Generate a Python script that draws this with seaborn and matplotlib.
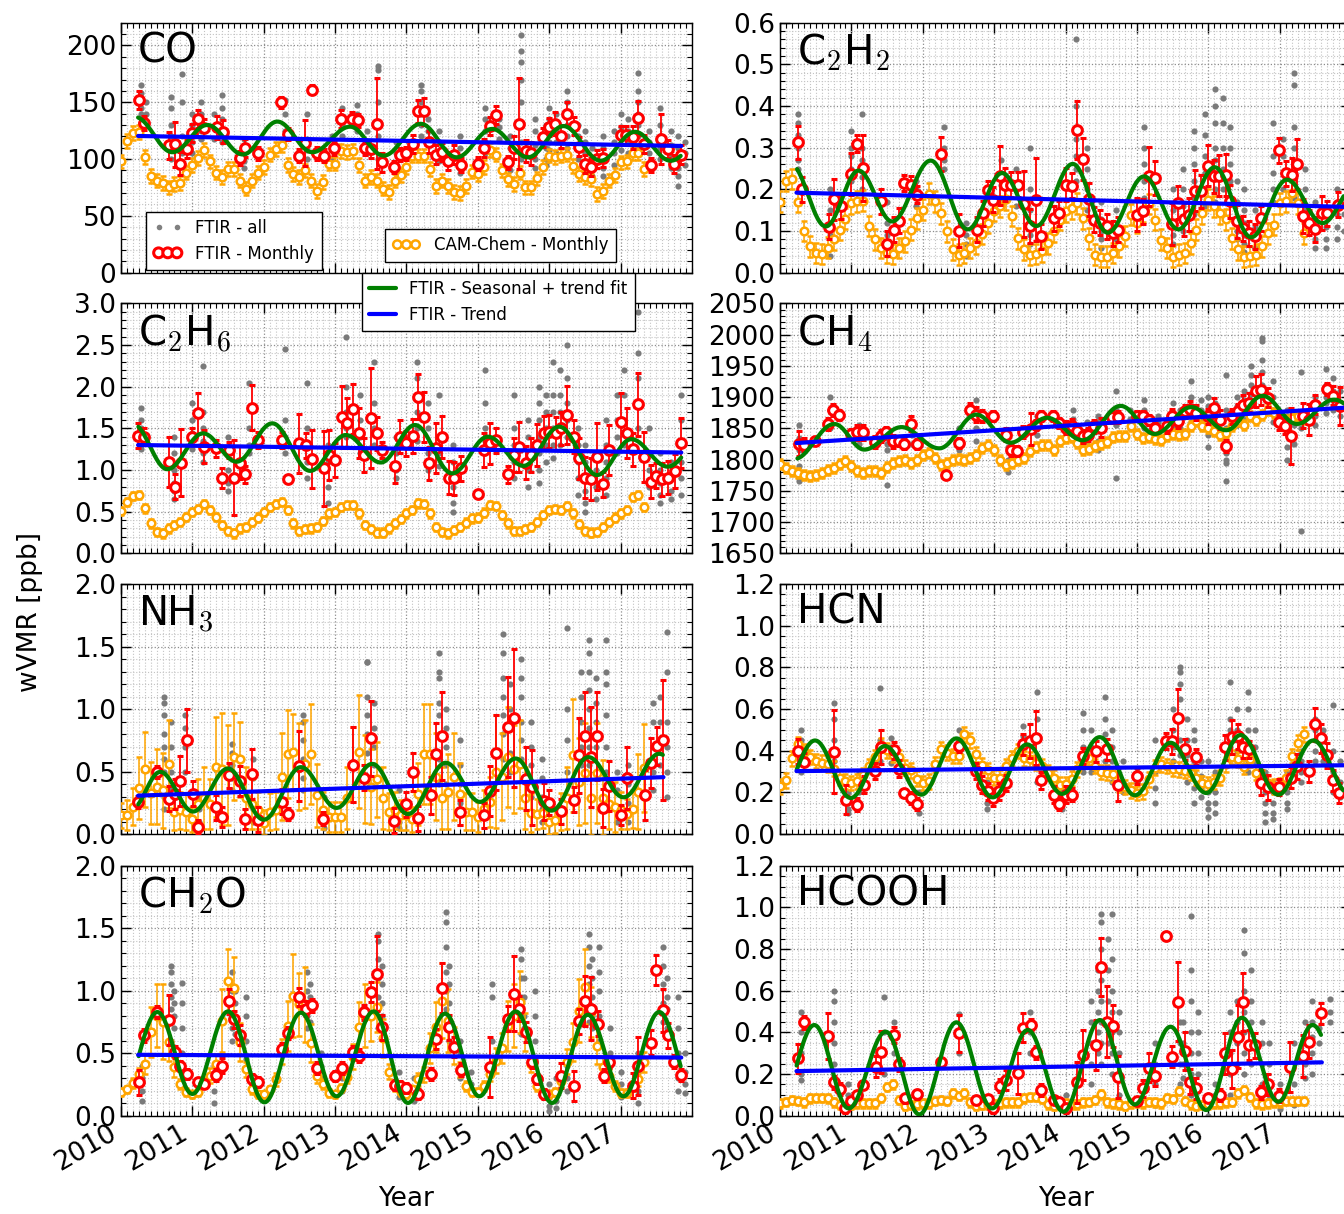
import numpy as np
import pandas as pd
import seaborn as sns
import matplotlib
matplotlib.use("Agg")
import matplotlib.pyplot as plt
from matplotlib.lines import Line2D
from matplotlib.ticker import AutoMinorLocator, MultipleLocator, FormatStrFormatter

# ---------------------------------------------------------------- data
# CAM-Chem monthly means, Jan 2010 onwards (one value per month)
cam_co = [98, 116, 123, 124, 102, 85, 81, 79, 75, 78,
          79, 88, 95, 101, 108, 98, 88, 84, 91, 91,
          81, 74, 81, 88, 93, 104, 109, 112, 95, 87,
          84, 90, 81, 72, 80, 96, 96, 107, 106, 107,
          95, 81, 84, 81, 74, 71, 81, 86, 93, 103,
          103, 103, 91, 76, 81, 76, 71, 70, 76, 89,
          87, 93, 108, 104, 90, 82, 78, 88, 75, 75,
          83, 93, 103, 102, 103, 104, 94, 87, 84, 82,
          69, 72, 81, 86, 97, 98, 105, 105, 91]
cam_c2h2 = [0.17, 0.22, 0.225, 0.17, 0.10, 0.063, 0.047, 0.045, 0.06, 0.08,
            0.103, 0.13, 0.167, 0.171, 0.173, 0.112, 0.08, 0.059, 0.047, 0.045,
            0.059, 0.075, 0.103, 0.131, 0.151, 0.19, 0.171, 0.143, 0.099, 0.056,
            0.043, 0.047, 0.059, 0.071, 0.093, 0.12, 0.149, 0.159, 0.176, 0.136,
            0.083, 0.056, 0.043, 0.045, 0.051, 0.071, 0.099, 0.127, 0.147, 0.155,
            0.167, 0.131, 0.083, 0.043, 0.038, 0.038, 0.047, 0.063, 0.088, 0.139,
            0.12, 0.147, 0.165, 0.127, 0.079, 0.059, 0.038, 0.043, 0.047, 0.071,
            0.103, 0.143, 0.175, 0.159, 0.143, 0.128, 0.083, 0.056, 0.038, 0.04,
            0.043, 0.063, 0.095, 0.115, 0.167, 0.171, 0.192, 0.167, 0.095]
cam_c2h6 = [0.51, 0.62, 0.69, 0.70, 0.54, 0.36, 0.26, 0.24, 0.30, 0.34,
            0.38, 0.44, 0.50, 0.53, 0.59, 0.52, 0.44, 0.34, 0.27, 0.24,
            0.30, 0.32, 0.38, 0.43, 0.50, 0.56, 0.59, 0.62, 0.52, 0.36,
            0.27, 0.29, 0.30, 0.32, 0.39, 0.48, 0.50, 0.56, 0.58, 0.58,
            0.48, 0.34, 0.29, 0.25, 0.25, 0.30, 0.36, 0.41, 0.48, 0.52,
            0.60, 0.59, 0.48, 0.32, 0.26, 0.24, 0.28, 0.32, 0.37, 0.42,
            0.43, 0.49, 0.58, 0.57, 0.46, 0.36, 0.27, 0.27, 0.29, 0.32,
            0.38, 0.46, 0.52, 0.53, 0.52, 0.57, 0.48, 0.35, 0.27, 0.25,
            0.26, 0.32, 0.38, 0.43, 0.48, 0.52, 0.68, 0.70, 0.56]
cam_ch4 = [1793, 1786, 1781, 1778, 1776, 1774, 1776, 1779, 1784, 1786,
           1793, 1797, 1789, 1781, 1778, 1781, 1781, 1779, 1788, 1795,
           1797, 1800, 1795, 1800, 1808, 1810, 1802, 1792, 1795, 1800,
           1801, 1800, 1802, 1808, 1818, 1824, 1816, 1800, 1792, 1794,
           1800, 1802, 1813, 1820, 1824, 1824, 1816, 1829, 1835, 1836,
           1827, 1816, 1817, 1821, 1825, 1828, 1836, 1838, 1837, 1853,
           1841, 1835, 1836, 1833, 1832, 1837, 1841, 1840, 1841, 1853,
           1861, 1853, 1851, 1845, 1840, 1843, 1853, 1861, 1856, 1869,
           1864, 1872, 1880, 1875, 1869, 1864, 1867, 1869, 1865]
cam_nh3 = [0.15, 0.15, 0.22, 0.37, 0.52, 0.33, 0.38, 0.35, 0.56, 0.18,
           0.19, 0.18, 0.12, 0.24, 0.29, 0.24, 0.54, 0.52, 0.47, 0.62,
           0.60, 0.29, 0.24, 0.19, 0.09, 0.18, 0.19, 0.46, 0.64, 0.66,
           0.54, 0.56, 0.64, 0.31, 0.19, 0.14, 0.14, 0.14, 0.29, 0.56,
           0.66, 0.44, 0.38, 0.44, 0.29, 0.18, 0.19, 0.15, 0.15, 0.12,
           0.32, 0.64, 0.64, 0.46, 0.29, 0.34, 0.46, 0.32, 0.18, 0.18,
           0.14, 0.20, 0.26, 0.50, 0.46, 0.62, 0.52, 0.56, 0.29, 0.17,
           0.16, 0.17, 0.10, 0.11, 0.18, 0.29, 0.63, 0.42, 0.49, 0.29,
           0.49, 0.29, 0.24, 0.22, 0.19, 0.16, 0.20, 0.34, 0.53]
cam_hcn = [0.229, 0.257, 0.363, 0.43, 0.398, 0.369, 0.35, 0.342, 0.334, 0.314,
           0.27, 0.253, 0.245, 0.253, 0.282, 0.326, 0.369, 0.427, 0.401, 0.379,
           0.369, 0.318, 0.305, 0.266, 0.245, 0.253, 0.334, 0.406, 0.39, 0.374,
           0.374, 0.478, 0.449, 0.382, 0.33, 0.305, 0.27, 0.27, 0.326, 0.363,
           0.398, 0.363, 0.358, 0.342, 0.326, 0.294, 0.27, 0.237, 0.241, 0.266,
           0.31, 0.35, 0.366, 0.326, 0.298, 0.294, 0.286, 0.237, 0.225, 0.209,
           0.197, 0.205, 0.262, 0.318, 0.334, 0.326, 0.314, 0.31, 0.302, 0.294,
           0.27, 0.245, 0.241, 0.25, 0.27, 0.334, 0.369, 0.358, 0.321, 0.358,
           0.294, 0.27, 0.245, 0.229, 0.234, 0.27, 0.374, 0.438, 0.478]
cam_ch2o = [0.19, 0.21, 0.26, 0.33, 0.41, 0.67, 0.80, 0.75, 0.59, 0.39,
            0.25, 0.19, 0.17, 0.19, 0.26, 0.32, 0.41, 0.76, 1.08, 1.02,
            0.59, 0.37, 0.21, 0.17, 0.17, 0.21, 0.29, 0.51, 0.72, 0.96,
            0.89, 0.89, 0.58, 0.32, 0.25, 0.18, 0.17, 0.22, 0.31, 0.47,
            0.71, 0.80, 0.80, 0.87, 0.62, 0.35, 0.24, 0.19, 0.17, 0.21,
            0.29, 0.33, 0.54, 0.71, 0.92, 0.76, 0.56, 0.37, 0.24, 0.19,
            0.19, 0.24, 0.33, 0.44, 0.54, 0.72, 0.80, 0.91, 0.67, 0.41,
            0.24, 0.18, 0.17, 0.19, 0.28, 0.43, 0.59, 0.84, 1.03, 0.83,
            0.56, 0.39, 0.32, 0.24, 0.18, 0.18, 0.24, 0.29, 0.43]
cam_hcooh = [0.059, 0.067, 0.075, 0.07, 0.064, 0.083, 0.086, 0.086, 0.083, 0.064,
             0.051, 0.043, 0.051, 0.059, 0.059, 0.059, 0.059, 0.086, 0.139, 0.15,
             0.075, 0.048, 0.051, 0.054, 0.059, 0.059, 0.07, 0.075, 0.07, 0.107,
             0.096, 0.107, 0.064, 0.048, 0.051, 0.051, 0.054, 0.059, 0.064, 0.064,
             0.064, 0.083, 0.091, 0.091, 0.08, 0.054, 0.048, 0.051, 0.059, 0.054,
             0.054, 0.064, 0.067, 0.075, 0.102, 0.064, 0.059, 0.054, 0.048, 0.059,
             0.064, 0.059, 0.067, 0.064, 0.059, 0.086, 0.08, 0.118, 0.07, 0.054,
             0.048, 0.051, 0.054, 0.059, 0.059, 0.064, 0.067, 0.107, 0.123, 0.091,
             0.059, 0.054, 0.059, 0.064, 0.064, 0.07, 0.07, 0.07, 0.07]

# CAM-Chem error bars (single value where the bars hardly change)
cam_err_nh3 = [0.1, 0.12, 0.15, 0.25, 0.3, 0.25, 0.3, 0.3, 0.35, 0.15,
               0.15, 0.15, 0.1, 0.2, 0.25, 0.2, 0.4, 0.45, 0.4, 0.35,
               0.3, 0.25, 0.2, 0.15, 0.1, 0.15, 0.15, 0.35, 0.35, 0.3,
               0.35, 0.35, 0.4, 0.25, 0.15, 0.12, 0.12, 0.12, 0.25, 0.3,
               0.45, 0.35, 0.3, 0.3, 0.25, 0.15, 0.15, 0.12, 0.12, 0.1,
               0.25, 0.4, 0.4, 0.35, 0.25, 0.3, 0.35, 0.25, 0.15, 0.15,
               0.12, 0.15, 0.2, 0.45, 0.35, 0.4, 0.35, 0.35, 0.25, 0.15,
               0.12, 0.12, 0.1, 0.1, 0.15, 0.25, 0.45, 0.35, 0.4, 0.3,
               0.4, 0.3, 0.2, 0.2, 0.15, 0.12, 0.15, 0.3, 0.35]
cam_err_ch2o = [0.03, 0.03, 0.04, 0.05, 0.08, 0.2, 0.25, 0.3, 0.15, 0.08,
                0.04, 0.03, 0.03, 0.03, 0.04, 0.06, 0.08, 0.25, 0.25, 0.25,
                0.15, 0.06, 0.04, 0.03, 0.03, 0.03, 0.05, 0.1, 0.2, 0.33,
                0.25, 0.3, 0.15, 0.06, 0.04, 0.03, 0.03, 0.03, 0.05, 0.1,
                0.2, 0.25, 0.2, 0.2, 0.15, 0.06, 0.04, 0.03, 0.03, 0.03,
                0.05, 0.06, 0.12, 0.2, 0.3, 0.25, 0.15, 0.06, 0.04, 0.03,
                0.03, 0.04, 0.05, 0.1, 0.12, 0.2, 0.25, 0.25, 0.15, 0.06,
                0.04, 0.03, 0.03, 0.03, 0.05, 0.1, 0.15, 0.25, 0.3, 0.2,
                0.15, 0.08, 0.05, 0.04, 0.03, 0.03, 0.04, 0.05, 0.08]
cam_err_co = 6
cam_err_c2h2 = 0.025
cam_err_c2h6 = 0.05
cam_err_ch4 = 8
cam_err_hcn = 0.035
cam_err_hcooh = 0.02

# FTIR monthly means: (decimal year, value, error)
ftir_co = [(2010.25, 152, 8), (2010.32, 132, 6), (2010.67, 112, 12), (2010.76, 113, 20),
           (2010.83, 96, 10), (2010.92, 109, 8), (2011.0, 123, 8), (2011.08, 135, 8),
           (2011.17, 127, 8), (2011.35, 128, 10), (2011.43, 124, 10), (2011.67, 101, 6),
           (2011.74, 110, 8), (2011.92, 105, 6), (2012.24, 150, 5), (2012.34, 122, 5),
           (2012.5, 103, 6), (2012.58, 114, 20), (2012.67, 161, 4), (2012.74, 105, 6),
           (2012.85, 103, 6), (2012.99, 110, 6), (2013.08, 135, 8), (2013.24, 135, 6),
           (2013.32, 134, 6), (2013.42, 110, 6), (2013.5, 109, 8), (2013.59, 131, 40),
           (2013.66, 97, 8), (2013.83, 93, 5), (2013.91, 104, 6), (2014.0, 105, 6),
           (2014.09, 113, 8), (2014.16, 142, 10), (2014.25, 142, 12), (2014.32, 115, 10),
           (2014.41, 104, 8), (2014.5, 106, 8), (2014.58, 98, 8), (2014.67, 104, 8),
           (2014.76, 95, 6), (2015.0, 96, 6), (2015.08, 110, 8), (2015.17, 129, 8),
           (2015.25, 139, 8), (2015.42, 97, 6), (2015.5, 110, 10), (2015.58, 131, 40),
           (2015.67, 107, 10), (2015.74, 105, 10), (2015.91, 119, 8), (2016.0, 128, 8),
           (2016.08, 131, 10), (2016.16, 120, 10), (2016.25, 140, 10), (2016.34, 129, 8),
           (2016.42, 111, 8), (2016.5, 96, 8), (2016.59, 93, 8), (2016.67, 100, 8),
           (2016.75, 101, 8), (2017.0, 121, 8), (2017.08, 121, 8), (2017.17, 119, 10),
           (2017.25, 136, 15), (2017.33, 113, 8), (2017.42, 95, 6), (2017.57, 118, 22),
           (2017.66, 109, 8), (2017.75, 96, 8), (2017.84, 104, 8)]
ftir_c2h2 = [(2010.25, 0.313, 0.04), (2010.31, 0.2, 0.03), (2010.68, 0.11, 0.03), (2010.76, 0.176, 0.05),
             (2010.86, 0.159, 0.03), (2011.0, 0.237, 0.05), (2011.08, 0.31, 0.02), (2011.16, 0.251, 0.08),
             (2011.42, 0.171, 0.03), (2011.5, 0.069, 0.03), (2011.59, 0.103, 0.03), (2011.66, 0.125, 0.03),
             (2011.74, 0.215, 0.02), (2011.83, 0.211, 0.02), (2011.92, 0.187, 0.02), (2012.25, 0.285, 0.04),
             (2012.5, 0.101, 0.04), (2012.76, 0.103, 0.03), (2012.84, 0.143, 0.03), (2012.91, 0.199, 0.02),
             (2012.99, 0.175, 0.03), (2013.08, 0.233, 0.07), (2013.15, 0.211, 0.04), (2013.23, 0.211, 0.03),
             (2013.33, 0.211, 0.03), (2013.42, 0.165, 0.08), (2013.5, 0.112, 0.04), (2013.58, 0.175, 0.1),
             (2013.66, 0.087, 0.03), (2013.84, 0.131, 0.03), (2013.91, 0.143, 0.03), (2014.0, 0.211, 0.04),
             (2014.09, 0.209, 0.03), (2014.16, 0.343, 0.07), (2014.24, 0.273, 0.05), (2014.33, 0.176, 0.04),
             (2014.4, 0.127, 0.03), (2014.48, 0.12, 0.03), (2014.58, 0.111, 0.03), (2014.67, 0.095, 0.03),
             (2014.74, 0.103, 0.03), (2015.0, 0.139, 0.04), (2015.09, 0.147, 0.03), (2015.17, 0.231, 0.07),
             (2015.25, 0.227, 0.04), (2015.49, 0.117, 0.05), (2015.58, 0.168, 0.04), (2015.66, 0.128, 0.04),
             (2015.73, 0.139, 0.04), (2015.81, 0.197, 0.05), (2015.9, 0.195, 0.04), (2016.0, 0.257, 0.05),
             (2016.08, 0.231, 0.04), (2016.15, 0.233, 0.05), (2016.25, 0.235, 0.05), (2016.31, 0.171, 0.04),
             (2016.4, 0.123, 0.04), (2016.48, 0.107, 0.03), (2016.57, 0.095, 0.03), (2016.65, 0.087, 0.03),
             (2016.74, 0.131, 0.03), (2016.99, 0.294, 0.03), (2017.09, 0.239, 0.03), (2017.17, 0.235, 0.04),
             (2017.24, 0.261, 0.06), (2017.33, 0.136, 0.04), (2017.41, 0.12, 0.03), (2017.49, 0.104, 0.03),
             (2017.59, 0.143, 0.04), (2017.66, 0.143, 0.03), (2017.82, 0.163, 0.03)]
ftir_c2h6 = [(2010.24, 1.41, 0.15), (2010.32, 1.40, 0.1), (2010.67, 1.10, 0.3), (2010.76, 0.80, 0.15),
             (2010.84, 1.09, 0.4), (2011.0, 1.40, 0.1), (2011.08, 1.68, 0.25), (2011.17, 1.28, 0.2),
             (2011.33, 1.26, 0.1), (2011.42, 0.91, 0.12), (2011.51, 1.24, 0.1), (2011.58, 0.91, 0.45),
             (2011.67, 1.09, 0.2), (2011.74, 0.95, 0.1), (2011.84, 1.75, 0.27), (2011.92, 1.36, 0.1),
             (2012.26, 1.36, 0.1), (2012.34, 0.89, 0.05), (2012.5, 1.32, 0.35), (2012.59, 1.30, 0.15),
             (2012.67, 1.13, 0.35), (2012.84, 1.02, 0.45), (2012.92, 1.18, 0.3), (2013.0, 1.12, 0.2),
             (2013.09, 1.64, 0.37), (2013.17, 1.57, 0.3), (2013.25, 1.73, 0.3), (2013.33, 1.44, 0.3),
             (2013.41, 1.18, 0.2), (2013.5, 1.62, 0.6), (2013.59, 1.44, 0.2), (2013.66, 1.24, 0.1),
             (2013.84, 1.05, 0.2), (2013.91, 1.40, 0.2), (2014.0, 1.32, 0.15), (2014.09, 1.41, 0.2),
             (2014.16, 1.88, 0.27), (2014.25, 1.64, 0.3), (2014.32, 1.08, 0.2), (2014.41, 1.26, 0.3),
             (2014.5, 1.40, 0.25), (2014.59, 0.91, 0.2), (2014.67, 0.90, 0.2), (2014.76, 1.02, 0.15),
             (2015.0, 0.71, 0.03), (2015.08, 1.24, 0.2), (2015.17, 1.32, 0.25), (2015.26, 1.36, 0.15),
             (2015.42, 0.95, 0.1), (2015.5, 1.18, 0.2), (2015.58, 1.28, 0.3), (2015.67, 1.09, 0.2),
             (2015.75, 1.18, 0.2), (2015.83, 1.30, 0.25), (2015.92, 1.45, 0.2), (2016.0, 1.46, 0.2),
             (2016.09, 1.44, 0.2), (2016.17, 1.50, 0.2), (2016.25, 1.66, 0.35), (2016.34, 1.40, 0.2),
             (2016.42, 1.14, 0.25), (2016.5, 0.91, 0.25), (2016.59, 0.89, 0.25), (2016.67, 1.16, 0.4),
             (2016.75, 0.83, 0.15), (2016.83, 1.24, 0.3), (2017.0, 1.58, 0.35), (2017.09, 1.44, 0.3),
             (2017.17, 1.25, 0.2), (2017.25, 1.79, 0.38), (2017.33, 1.16, 0.3), (2017.42, 0.86, 0.2),
             (2017.5, 0.93, 0.15), (2017.58, 0.89, 0.2), (2017.66, 0.91, 0.2), (2017.76, 0.99, 0.2),
             (2017.84, 1.32, 0.3)]
ftir_ch4 = [(2010.26, 1825, 20), (2010.33, 1824, 10), (2010.49, 1829, 5), (2010.67, 1857, 10),
            (2010.74, 1879, 10), (2010.83, 1872, 8), (2010.99, 1841, 8), (2011.08, 1844, 12),
            (2011.16, 1844, 12), (2011.33, 1828, 10), (2011.41, 1838, 10), (2011.49, 1844, 8),
            (2011.58, 1829, 10), (2011.66, 1829, 8), (2011.74, 1825, 8), (2011.83, 1857, 12),
            (2011.92, 1825, 8), (2012.33, 1776, 5), (2012.5, 1827, 8), (2012.66, 1880, 10),
            (2012.75, 1872, 12), (2012.83, 1870, 10), (2012.99, 1869, 8), (2013.17, 1840, 10),
            (2013.24, 1815, 10), (2013.32, 1813, 8), (2013.4, 1844, 10), (2013.51, 1849, 25),
            (2013.58, 1856, 8), (2013.66, 1869, 8), (2013.82, 1870, 8), (2013.91, 1859, 8),
            (2014.0, 1851, 10), (2014.09, 1853, 12), (2014.16, 1845, 10), (2014.24, 1837, 10),
            (2014.32, 1840, 10), (2014.4, 1853, 10), (2014.49, 1851, 15), (2014.65, 1868, 10),
            (2014.74, 1868, 10), (2015.0, 1869, 8), (2015.09, 1870, 8), (2015.17, 1863, 8),
            (2015.25, 1851, 8), (2015.42, 1853, 10), (2015.49, 1869, 12), (2015.58, 1861, 10),
            (2015.67, 1877, 10), (2015.74, 1881, 12), (2015.83, 1875, 12), (2016.0, 1869, 12),
            (2016.08, 1883, 15), (2016.16, 1864, 15), (2016.25, 1822, 10), (2016.33, 1869, 12),
            (2016.41, 1877, 12), (2016.49, 1888, 15), (2016.57, 1891, 15), (2016.67, 1909, 25),
            (2016.74, 1912, 25), (2016.83, 1899, 15), (2016.99, 1860, 12), (2017.08, 1853, 12),
            (2017.16, 1838, 45), (2017.33, 1870, 20), (2017.41, 1864, 25), (2017.5, 1888, 15),
            (2017.66, 1913, 10), (2017.75, 1902, 15), (2017.84, 1886, 30)]
ftir_nh3 = [(2010.24, 0.257, 0.05), (2010.5, 0.497, 0.05), (2010.67, 0.283, 0.1), (2010.76, 0.321, 0.12),
            (2010.83, 0.428, 0.2), (2010.92, 0.749, 0.25), (2011.01, 0.321, 0.1), (2011.08, 0.06, 0.05),
            (2011.33, 0.214, 0.1), (2011.42, 0.134, 0.08), (2011.51, 0.47, 0.1), (2011.67, 0.428, 0.12),
            (2011.74, 0.123, 0.08), (2011.84, 0.481, 0.2), (2011.92, 0.115, 0.1), (2012.26, 0.257, 0.1),
            (2012.34, 0.16, 0.05), (2012.5, 0.543, 0.28), (2012.83, 0.123, 0.05), (2013.25, 0.556, 0.3),
            (2013.41, 0.449, 0.1), (2013.5, 0.765, 0.3), (2013.83, 0.107, 0.1), (2014.0, 0.24, 0.1),
            (2014.09, 0.497, 0.15), (2014.16, 0.128, 0.1), (2014.34, 0.31, 0.15), (2014.42, 0.642, 0.25),
            (2014.5, 0.783, 0.35), (2014.75, 0.176, 0.1), (2015.08, 0.15, 0.1), (2015.17, 0.348, 0.2),
            (2015.25, 0.65, 0.3), (2015.42, 0.856, 0.4), (2015.5, 0.93, 0.55), (2015.67, 0.444, 0.25),
            (2015.76, 0.374, 0.3), (2015.92, 0.262, 0.15), (2016.0, 0.249, 0.1), (2016.17, 0.182, 0.1),
            (2016.34, 0.275, 0.1), (2016.42, 0.631, 0.3), (2016.5, 0.783, 0.35), (2016.59, 0.615, 0.4),
            (2016.67, 0.783, 0.35), (2016.75, 0.209, 0.15), (2016.84, 0.382, 0.2), (2017.01, 0.155, 0.08),
            (2017.09, 0.449, 0.25), (2017.34, 0.31, 0.2), (2017.42, 0.57, 0.2), (2017.51, 0.703, 0.15),
            (2017.6, 0.749, 0.48)]
ftir_hcn = [(2010.25, 0.398, 0.06), (2010.33, 0.347, 0.04), (2010.76, 0.395, 0.2), (2010.93, 0.165, 0.07),
            (2011.08, 0.141, 0.03), (2011.18, 0.237, 0.04), (2011.33, 0.302, 0.04), (2011.42, 0.417, 0.08),
            (2011.59, 0.401, 0.04), (2011.66, 0.314, 0.04), (2011.74, 0.197, 0.02), (2011.83, 0.173, 0.03),
            (2011.92, 0.144, 0.03), (2012.5, 0.422, 0.03), (2012.75, 0.302, 0.04), (2012.83, 0.237, 0.04),
            (2012.91, 0.205, 0.04), (2012.99, 0.173, 0.04), (2013.07, 0.205, 0.04), (2013.16, 0.245, 0.04),
            (2013.4, 0.43, 0.05), (2013.5, 0.446, 0.08), (2013.58, 0.459, 0.13), (2013.66, 0.257, 0.04),
            (2013.84, 0.189, 0.04), (2013.91, 0.144, 0.03), (2014.0, 0.189, 0.04), (2014.09, 0.189, 0.03),
            (2014.24, 0.374, 0.04), (2014.42, 0.398, 0.05), (2014.58, 0.406, 0.05), (2014.74, 0.237, 0.08),
            (2015.0, 0.278, 0.04), (2015.41, 0.446, 0.04), (2015.49, 0.446, 0.06), (2015.58, 0.555, 0.14),
            (2015.67, 0.406, 0.05), (2015.83, 0.369, 0.04), (2016.24, 0.417, 0.06), (2016.33, 0.465, 0.08),
            (2016.41, 0.47, 0.06), (2016.49, 0.417, 0.05), (2016.57, 0.406, 0.04), (2016.74, 0.245, 0.06),
            (2016.83, 0.225, 0.06), (2016.99, 0.225, 0.04), (2017.16, 0.27, 0.05), (2017.24, 0.326, 0.06),
            (2017.41, 0.302, 0.05), (2017.49, 0.526, 0.08), (2017.58, 0.459, 0.07), (2017.66, 0.379, 0.06),
            (2017.75, 0.257, 0.05), (2017.83, 0.197, 0.05)]
ftir_ch2o = [(2010.25, 0.267, 0.1), (2010.32, 0.642, 0.05), (2010.5, 0.829, 0.05), (2010.67, 0.762, 0.2),
             (2010.76, 0.508, 0.05), (2010.83, 0.401, 0.04), (2010.92, 0.334, 0.04), (2011.08, 0.267, 0.03),
             (2011.17, 0.254, 0.03), (2011.33, 0.326, 0.05), (2011.42, 0.401, 0.06), (2011.51, 0.914, 0.1),
             (2011.58, 0.77, 0.07), (2011.67, 0.642, 0.08), (2011.84, 0.294, 0.04), (2011.92, 0.267, 0.04),
             (2012.26, 0.535, 0.05), (2012.34, 0.663, 0.05), (2012.5, 0.949, 0.07), (2012.59, 0.856, 0.06),
             (2012.67, 0.882, 0.05), (2012.75, 0.38, 0.05), (2013.0, 0.316, 0.04), (2013.09, 0.38, 0.05),
             (2013.25, 0.508, 0.05), (2013.33, 0.481, 0.05), (2013.41, 0.829, 0.06), (2013.5, 0.989, 0.08),
             (2013.59, 1.136, 0.3), (2013.66, 0.709, 0.1), (2013.84, 0.246, 0.04), (2013.91, 0.235, 0.04),
             (2014.0, 0.219, 0.04), (2014.16, 0.174, 0.04), (2014.34, 0.334, 0.05), (2014.42, 0.61, 0.08),
             (2014.5, 1.021, 0.2), (2014.59, 0.709, 0.1), (2014.67, 0.548, 0.08), (2014.76, 0.369, 0.05),
             (2015.17, 0.388, 0.24), (2015.42, 0.775, 0.1), (2015.5, 0.976, 0.3), (2015.58, 0.856, 0.1),
             (2015.67, 0.668, 0.08), (2015.76, 0.428, 0.05), (2015.83, 0.294, 0.04), (2015.92, 0.174, 0.04),
             (2016.17, 0.321, 0.1), (2016.34, 0.241, 0.12), (2016.42, 0.754, 0.1), (2016.5, 0.914, 0.2),
             (2016.59, 0.856, 0.25), (2016.68, 0.735, 0.1), (2016.76, 0.321, 0.05), (2016.84, 0.428, 0.05),
             (2017.17, 0.241, 0.1), (2017.25, 0.396, 0.23), (2017.42, 0.583, 0.1), (2017.5, 1.163, 0.12),
             (2017.59, 0.842, 0.17), (2017.66, 0.642, 0.1), (2017.75, 0.433, 0.05), (2017.84, 0.326, 0.05)]
ftir_hcooh = [(2010.25, 0.275, 0.07), (2010.33, 0.448, 0.03), (2010.67, 0.384, 0.11), (2010.76, 0.16, 0.03),
              (2010.84, 0.128, 0.03), (2010.91, 0.035, 0.02), (2011.0, 0.07, 0.02), (2011.08, 0.099, 0.02),
              (2011.16, 0.147, 0.02), (2011.34, 0.235, 0.05), (2011.41, 0.307, 0.1), (2011.59, 0.387, 0.04),
              (2011.66, 0.246, 0.03), (2011.75, 0.083, 0.02), (2011.92, 0.102, 0.02), (2012.25, 0.256, 0.02),
              (2012.5, 0.395, 0.09), (2012.75, 0.075, 0.02), (2012.91, 0.08, 0.02), (2012.99, 0.035, 0.02),
              (2013.08, 0.144, 0.03), (2013.16, 0.171, 0.05), (2013.33, 0.203, 0.1), (2013.4, 0.422, 0.07),
              (2013.51, 0.435, 0.03), (2013.59, 0.304, 0.03), (2013.66, 0.123, 0.03), (2013.84, 0.075, 0.02),
              (2013.91, 0.067, 0.02), (2014.0, 0.035, 0.02), (2014.16, 0.16, 0.1), (2014.24, 0.291, 0.12),
              (2014.42, 0.339, 0.12), (2014.49, 0.715, 0.14), (2014.58, 0.451, 0.17), (2014.67, 0.432, 0.1),
              (2014.74, 0.187, 0.1), (2015.0, 0.07, 0.02), (2015.09, 0.131, 0.04), (2015.17, 0.23, 0.07),
              (2015.25, 0.192, 0.05), (2015.41, 0.864, 0.02), (2015.49, 0.283, 0.05), (2015.58, 0.547, 0.19),
              (2015.67, 0.31, 0.09), (2015.74, 0.163, 0.06), (2015.83, 0.131, 0.05), (2016.0, 0.086, 0.02),
              (2016.16, 0.099, 0.03), (2016.24, 0.299, 0.1), (2016.33, 0.224, 0.09), (2016.41, 0.379, 0.15),
              (2016.49, 0.547, 0.14), (2016.57, 0.339, 0.07), (2016.65, 0.339, 0.06), (2016.74, 0.112, 0.03),
              (2016.83, 0.15, 0.05), (2016.99, 0.096, 0.03), (2017.15, 0.235, 0.12), (2017.33, 0.288, 0.1),
              (2017.41, 0.355, 0.08), (2017.58, 0.491, 0.05)]

# FTIR individual retrievals: (decimal year, [values measured around that date])
all_co = [(2010.28, [165, 158, 150, 145, 140, 132]), (2010.35, [150, 140, 130]),
          (2010.7, [155, 145, 130, 120, 110, 100]), (2010.85, [175, 150, 120, 105, 95]),
          (2011.0, [140, 130, 120, 115, 105]), (2011.12, [150, 140, 132, 125, 118]),
          (2011.3, [140, 128, 118]), (2011.42, [156, 145, 135, 125, 115]),
          (2011.72, [118, 112, 105, 98, 92]), (2012.3, [152, 140, 125, 118]),
          (2012.6, [140, 118, 108, 100]), (2012.95, [120, 110, 100]), (2013.1, [145, 138, 130, 120]),
          (2013.3, [148, 140, 125]), (2013.45, [125, 115, 105]), (2013.6, [182, 178, 150, 120, 100]),
          (2013.85, [115, 105, 95, 88]), (2014.2, [165, 160, 150, 140, 130, 120]), (2014.3, [135, 125, 115]),
          (2014.45, [125, 115, 105, 98]), (2014.75, [120, 110, 100, 92, 88]),
          (2015.1, [145, 135, 125, 115, 105]), (2015.3, [135, 128, 118]), (2015.45, [120, 110, 100, 90]),
          (2015.6, [209, 195, 185, 170, 150, 130, 115, 100]), (2015.8, [135, 125, 112, 100, 92]),
          (2015.95, [130, 120, 110, 100, 95]), (2016.0, [145, 135, 125, 115, 108, 100]),
          (2016.1, [140, 125, 115, 105]), (2016.25, [160, 150, 140, 130, 120, 110]),
          (2016.4, [130, 120, 110, 100]), (2016.5, [125, 115, 105, 95, 88]), (2016.6, [110, 100, 92, 85]),
          (2016.75, [120, 110, 100, 92, 85]), (2016.9, [125, 115, 105, 95]),
          (2017.0, [140, 128, 118, 108, 100]), (2017.1, [135, 125, 115, 105]),
          (2017.25, [176, 160, 150, 140, 130, 120, 110]), (2017.4, [125, 115, 105, 95]),
          (2017.55, [145, 130, 120, 110, 100]), (2017.7, [125, 112, 102, 92]),
          (2017.8, [120, 110, 100, 92, 85, 76]), (2017.9, [115, 105, 95])]
all_c2h2 = [(2010.25, [0.38, 0.36, 0.33, 0.3, 0.27, 0.25]), (2010.7, [0.2, 0.15, 0.12, 0.09, 0.06, 0.04]),
            (2011.0, [0.34, 0.3, 0.28, 0.25, 0.22]), (2011.15, [0.38, 0.3, 0.27, 0.23, 0.2]),
            (2011.5, [0.17, 0.12, 0.09, 0.07, 0.05]), (2011.9, [0.22, 0.2, 0.18, 0.16]),
            (2012.3, [0.35, 0.3, 0.27, 0.25]), (2012.6, [0.12, 0.09, 0.07, 0.05, 0.04]),
            (2013.1, [0.27, 0.24, 0.21, 0.18, 0.16]), (2013.3, [0.25, 0.2, 0.16]),
            (2013.5, [0.3, 0.2, 0.15, 0.12, 0.09, 0.07]),
            (2014.15, [0.56, 0.4, 0.35, 0.32, 0.28, 0.25, 0.22]), (2014.3, [0.3, 0.25, 0.2, 0.15]),
            (2014.5, [0.17, 0.13, 0.1, 0.08, 0.06]), (2014.7, [0.15, 0.11, 0.08]),
            (2015.1, [0.35, 0.3, 0.26, 0.22, 0.18]), (2015.5, [0.2, 0.15, 0.12, 0.09, 0.07]),
            (2015.65, [0.25, 0.2, 0.16, 0.12, 0.1]), (2015.8, [0.34, 0.3, 0.26, 0.22, 0.18, 0.14]),
            (2015.95, [0.38, 0.33, 0.28, 0.24, 0.2, 0.16]),
            (2016.1, [0.44, 0.4, 0.36, 0.3, 0.27, 0.24, 0.2, 0.17]), (2016.2, [0.42, 0.36, 0.3, 0.25, 0.2]),
            (2016.3, [0.35, 0.3, 0.26, 0.22, 0.18]), (2016.4, [0.22, 0.17, 0.13, 0.1, 0.08]),
            (2016.5, [0.2, 0.15, 0.12, 0.09, 0.07, 0.05]), (2016.65, [0.15, 0.11, 0.08, 0.06, 0.04]),
            (2016.9, [0.36, 0.28, 0.24, 0.2, 0.17]), (2017.05, [0.32, 0.28, 0.24, 0.2]),
            (2017.2, [0.48, 0.45, 0.35, 0.3, 0.26, 0.22, 0.18]), (2017.35, [0.25, 0.2, 0.15, 0.12]),
            (2017.5, [0.17, 0.12, 0.1, 0.08, 0.06]), (2017.65, [0.14, 0.11, 0.08, 0.06]),
            (2017.8, [0.2, 0.17, 0.14, 0.11, 0.08]), (2017.9, [0.18, 0.14, 0.1])]
all_c2h6 = [(2010.28, [1.75, 1.6, 1.5, 1.4, 1.3, 1.25]), (2010.75, [1.4, 1.2, 1.0, 0.85, 0.75, 0.65]),
            (2011.0, [1.8, 1.6, 1.45, 1.35, 1.25]), (2011.15, [2.25, 1.7, 1.5, 1.35, 1.2, 1.1]),
            (2011.5, [1.4, 1.2, 1.0, 0.85, 0.75]), (2011.8, [2.05, 1.5, 1.3, 1.2]),
            (2012.3, [2.45, 1.6, 1.4, 1.2]), (2012.6, [2.05, 1.5, 1.3, 1.1, 0.9]),
            (2012.9, [1.3, 1.1, 0.8, 0.6]), (2013.15, [2.6, 2.0, 1.7, 1.5, 1.4]),
            (2013.35, [1.9, 1.6, 1.4, 1.2]), (2013.55, [2.7, 2.3, 1.8, 1.5, 1.3]),
            (2013.85, [1.4, 1.2, 1.0, 0.9]), (2014.15, [2.3, 2.1, 1.9, 1.7, 1.5, 1.35]),
            (2014.3, [1.8, 1.5, 1.2, 1.0]), (2014.45, [1.9, 1.4, 1.2, 1.05]),
            (2014.65, [1.3, 1.1, 0.95, 0.8, 0.6, 0.5]), (2015.1, [2.2, 1.8, 1.5, 1.35, 1.2]),
            (2015.5, [1.9, 1.5, 1.3, 1.1, 0.9]), (2015.7, [1.6, 1.4, 1.2, 1.0, 0.8]),
            (2015.85, [2.0, 1.8, 1.6, 1.4, 1.2, 1.0, 0.85]), (2015.95, [1.9, 1.7, 1.5, 1.3, 1.1]),
            (2016.05, [2.7, 2.3, 1.9, 1.7, 1.5, 1.3, 1.15]), (2016.15, [2.2, 1.9, 1.7, 1.5, 1.3]),
            (2016.25, [2.5, 2.1, 1.8, 1.6, 1.4]), (2016.4, [1.5, 1.3, 1.1, 0.9, 0.7]),
            (2016.5, [1.3, 1.1, 0.9, 0.75, 0.6, 0.5]), (2016.65, [1.2, 1.0, 0.8, 0.65]),
            (2016.8, [1.6, 1.3, 1.1, 0.9, 0.7]), (2016.95, [1.9, 1.6, 1.4, 1.2]),
            (2017.05, [2.2, 1.9, 1.6, 1.45, 1.3]), (2017.25, [2.9, 2.4, 2.1, 1.8, 1.5]),
            (2017.4, [1.5, 1.2, 1.0, 0.8]), (2017.55, [1.2, 1.0, 0.85, 0.7, 0.6]),
            (2017.7, [1.1, 0.9, 0.75, 0.65]), (2017.85, [1.9, 1.6, 1.3, 1.1, 0.9, 0.7])]
all_ch4 = [(2010.27, [1855, 1835, 1815, 1790, 1770, 1765]), (2010.7, [1900, 1880, 1860, 1850]),
           (2011.1, [1855, 1845, 1835, 1825]), (2011.5, [1845, 1835, 1825, 1815, 1760]),
           (2011.85, [1860, 1840, 1825]), (2012.5, [1850, 1830, 1815]),
           (2012.75, [1895, 1880, 1865, 1850, 1830]), (2013.2, [1840, 1820, 1800, 1780]),
           (2013.6, [1870, 1855, 1840]), (2014.1, [1880, 1865, 1850, 1835]), (2014.3, [1860, 1845, 1830]),
           (2014.45, [1870, 1860, 1845, 1830, 1815]), (2014.7, [1910, 1880, 1865, 1855, 1770]),
           (2014.9, [1880, 1865, 1850]), (2015.1, [1895, 1880, 1865, 1850]),
           (2015.3, [1870, 1860, 1850, 1840]), (2015.5, [1890, 1875, 1860, 1850]),
           (2015.6, [1880, 1870, 1860, 1850]), (2015.75, [1925, 1900, 1885, 1870, 1860]),
           (2015.9, [1895, 1880, 1865, 1850]), (2016.0, [1900, 1885, 1870, 1850, 1840, 1820]),
           (2016.1, [1890, 1875, 1860, 1845]),
           (2016.25, [1935, 1880, 1850, 1830, 1810, 1800, 1795, 1765]),
           (2016.4, [1900, 1885, 1870, 1855]), (2016.5, [1910, 1895, 1880, 1865]),
           (2016.6, [1950, 1935, 1920, 1905, 1890]), (2016.75, [1995, 1990, 1960, 1940, 1920, 1900]),
           (2016.9, [1925, 1900, 1880, 1860]), (2017.1, [1880, 1870, 1860, 1850, 1820, 1800]),
           (2017.2, [1870, 1855, 1840, 1825]), (2017.3, [1940, 1870, 1850, 1685]),
           (2017.5, [1900, 1885, 1870, 1855]), (2017.65, [1945, 1920, 1900, 1890, 1875]),
           (2017.75, [1930, 1910, 1895, 1880]), (2017.85, [1910, 1890, 1870])]
all_nh3 = [(2010.6, [1.1, 1.05, 0.95, 0.8, 0.7, 0.6, 0.5, 0.3, 0.2]), (2010.7, [0.9, 0.7, 0.5, 0.35]),
           (2010.9, [0.95, 0.85, 0.7, 0.5]), (2011.1, [0.3, 0.2, 0.1, 0.05]),
           (2011.55, [0.72, 0.65, 0.55, 0.45, 0.35]), (2011.85, [0.6, 0.45, 0.2, 0.1]),
           (2012.55, [0.95, 0.9, 0.75, 0.6, 0.45, 0.35]), (2012.85, [0.3, 0.2, 0.1, 0.05]),
           (2013.45, [1.38, 1.38, 1.1, 0.95, 0.8, 0.65, 0.45]), (2013.55, [1.05, 0.85, 0.7, 0.55]),
           (2013.9, [0.35, 0.2, 0.1, 0.05]), (2014.45, [1.45, 1.3, 1.25, 1.05, 0.95, 0.8, 0.6, 0.4]),
           (2014.55, [1.0, 0.85, 0.7, 0.55, 0.4]), (2014.75, [0.75, 0.55, 0.4, 0.25]),
           (2015.35, [1.6, 1.45, 1.25, 1.1, 0.95, 0.8, 0.6]), (2015.45, [1.2, 1.0, 0.85, 0.65, 0.5]),
           (2015.6, [1.4, 1.25, 1.1, 0.9, 0.75, 0.6]), (2015.75, [0.9, 0.7, 0.55, 0.4, 0.3]),
           (2015.9, [0.6, 0.45, 0.3, 0.2, 0.1]), (2016.25, [1.65, 1.0, 0.75, 0.5, 0.3]),
           (2016.45, [1.3, 1.1, 0.9, 0.7, 0.55]), (2016.55, [1.55, 1.45, 1.3, 1.15, 1.0, 0.85, 0.7, 0.55]),
           (2016.65, [1.25, 1.05, 0.9, 0.7]), (2016.8, [1.55, 1.3, 1.2, 0.95, 0.7, 0.5]),
           (2016.95, [0.5, 0.35, 0.2, 0.1]), (2017.1, [0.55, 0.4, 0.25, 0.1]),
           (2017.45, [1.05, 0.9, 0.7, 0.5, 0.35]), (2017.55, [1.1, 0.9, 0.7, 0.55]),
           (2017.65, [1.62, 1.3, 0.9, 0.7, 0.5, 0.3])]
all_hcn = [(2010.3, [0.5, 0.45, 0.4, 0.35, 0.3]), (2010.75, [0.63, 0.55, 0.45, 0.35]),
           (2010.95, [0.2, 0.15, 0.12, 0.1]), (2011.1, [0.3, 0.2, 0.15]), (2011.4, [0.7, 0.45, 0.4, 0.35]),
           (2011.55, [0.46, 0.42, 0.38, 0.34]), (2011.95, [0.2, 0.15, 0.1]), (2012.5, [0.5, 0.45, 0.4]),
           (2012.9, [0.25, 0.2, 0.15, 0.12]), (2013.4, [0.52, 0.47, 0.42, 0.37]),
           (2013.6, [0.68, 0.55, 0.45, 0.25]), (2013.95, [0.22, 0.15, 0.12]),
           (2014.25, [0.58, 0.5, 0.42, 0.35, 0.3]), (2014.35, [0.5, 0.42, 0.36, 0.3]),
           (2014.55, [0.66, 0.55, 0.48, 0.42, 0.35, 0.3]), (2014.65, [0.5, 0.42, 0.35, 0.3, 0.25]),
           (2014.8, [0.35, 0.25, 0.2]), (2015.0, [0.3, 0.25, 0.2]), (2015.25, [0.45, 0.3, 0.22, 0.15]),
           (2015.5, [0.6, 0.5, 0.42, 0.35]), (2015.6, [0.8, 0.78, 0.72, 0.65, 0.55, 0.45, 0.38, 0.3]),
           (2015.7, [0.55, 0.45, 0.38, 0.3, 0.25]), (2015.8, [0.5, 0.45, 0.35, 0.3, 0.22, 0.15]),
           (2015.9, [0.35, 0.28, 0.22, 0.18]), (2016.0, [0.35, 0.25, 0.2, 0.15, 0.12, 0.08]),
           (2016.1, [0.3, 0.25, 0.2, 0.15, 0.1]), (2016.3, [0.73, 0.55, 0.5, 0.42, 0.38]),
           (2016.4, [0.6, 0.5, 0.45, 0.4, 0.35]), (2016.55, [0.68, 0.6, 0.5, 0.42, 0.35, 0.3]),
           (2016.65, [0.5, 0.42, 0.35, 0.3]), (2016.8, [0.3, 0.2, 0.15, 0.1, 0.06]),
           (2016.9, [0.25, 0.2, 0.15, 0.1, 0.07]), (2017.1, [0.3, 0.2, 0.15, 0.12]),
           (2017.3, [0.4, 0.35, 0.3, 0.25]), (2017.5, [0.55, 0.5, 0.45, 0.4, 0.35]),
           (2017.6, [0.5, 0.45, 0.4, 0.35]), (2017.75, [0.62, 0.4, 0.3, 0.2]), (2017.85, [0.35, 0.25, 0.18])]
all_ch2o = [(2010.3, [0.4, 0.3, 0.2, 0.12]), (2010.7, [1.2, 1.15, 1.05, 0.95, 0.85, 0.75, 0.6]),
            (2010.75, [1.0, 0.9, 0.8, 0.7, 0.55]), (2010.85, [1.06, 0.9, 0.7, 0.5, 0.35]),
            (2011.3, [0.4, 0.3, 0.2, 0.1]), (2011.55, [1.15, 1.0, 0.9, 0.8, 0.7, 0.6]),
            (2011.6, [1.0, 0.9, 0.8, 0.65]), (2011.75, [0.95, 0.8, 0.6, 0.45]),
            (2012.6, [1.15, 1.0, 0.9, 0.8, 0.7]), (2012.65, [1.05, 0.95, 0.85, 0.75]),
            (2012.8, [0.5, 0.4, 0.3]), (2013.1, [0.4, 0.3, 0.2]),
            (2013.6, [1.45, 1.4, 1.25, 1.1, 0.95, 0.85, 0.7]), (2013.65, [1.2, 1.05, 0.9, 0.8]),
            (2013.9, [0.35, 0.25, 0.15]), (2014.1, [0.3, 0.2, 0.12]),
            (2014.55, [1.63, 1.55, 1.35, 1.15, 1.0, 0.85, 0.7]), (2014.6, [1.2, 1.05, 0.9, 0.75, 0.6]),
            (2014.75, [0.6, 0.5, 0.4, 0.3]), (2014.9, [0.35, 0.25, 0.2]), (2015.2, [1.05, 0.95, 0.6, 0.4]),
            (2015.6, [1.33, 1.25, 1.1, 0.95, 0.8, 0.65]), (2015.65, [1.1, 0.95, 0.8, 0.7]),
            (2015.8, [1.0, 0.8, 0.6, 0.45]), (2016.0, [0.25, 0.15, 0.08, 0.04]),
            (2016.1, [0.3, 0.2, 0.12, 0.06]), (2016.25, [0.4, 0.3, 0.2]),
            (2016.55, [1.45, 1.35, 1.2, 1.05, 0.9, 0.75]), (2016.6, [1.25, 1.1, 0.95, 0.8, 0.7]),
            (2016.7, [1.35, 1.15, 1.0, 0.8, 0.6]), (2016.85, [0.7, 0.5, 0.4, 0.3]),
            (2017.0, [0.35, 0.25, 0.15]), (2017.25, [0.5, 0.35, 0.2, 0.1]),
            (2017.6, [1.35, 1.2, 1.05, 0.9, 0.75]), (2017.65, [1.1, 0.95, 0.85, 0.7]),
            (2017.8, [0.95, 0.7, 0.5, 0.3, 0.2]), (2017.9, [0.5, 0.35, 0.25, 0.18])]
all_hcooh = [(2010.3, [0.5, 0.4, 0.3, 0.2, 0.17]), (2010.75, [0.6, 0.55, 0.45, 0.35, 0.25, 0.15]),
             (2010.95, [0.15, 0.1, 0.05]), (2011.45, [0.57, 0.4, 0.3, 0.2]), (2011.6, [0.45, 0.38, 0.3]),
             (2012.5, [0.49, 0.4, 0.3]), (2013.5, [0.5, 0.4, 0.3]), (2014.0, [0.1, 0.05, 0.02]),
             (2014.35, [0.55, 0.45, 0.35, 0.25, 0.15]), (2014.45, [0.7, 0.6, 0.5, 0.4, 0.3]),
             (2014.5, [0.97, 0.93, 0.8, 0.65, 0.55, 0.45, 0.35, 0.25]),
             (2014.6, [0.85, 0.7, 0.55, 0.45, 0.35]), (2014.65, [0.97, 0.75, 0.6, 0.5, 0.4, 0.3, 0.2]),
             (2014.75, [0.5, 0.4, 0.3, 0.2, 0.1]), (2015.25, [0.35, 0.25, 0.15, 0.05]),
             (2015.6, [0.55, 0.45, 0.35, 0.25, 0.15]), (2015.65, [0.45, 0.35, 0.25, 0.18]),
             (2015.75, [0.96, 0.7, 0.55, 0.4, 0.3, 0.2, 0.1]), (2015.85, [0.5, 0.4, 0.3, 0.2, 0.12]),
             (2016.0, [0.1, 0.05, 0.0]), (2016.1, [0.15, 0.1, 0.05]), (2016.3, [0.5, 0.4, 0.3, 0.2, 0.1]),
             (2016.4, [0.55, 0.45, 0.35, 0.25]), (2016.5, [0.89, 0.78, 0.6, 0.5, 0.4, 0.3, 0.2]),
             (2016.6, [0.7, 0.55, 0.45, 0.35, 0.25]), (2016.75, [0.45, 0.35, 0.25, 0.15]),
             (2016.85, [0.35, 0.25, 0.15, 0.08]), (2017.0, [0.15, 0.08, 0.03]),
             (2017.2, [0.35, 0.25, 0.15, 0.05]), (2017.35, [0.45, 0.35, 0.25, 0.18]),
             (2017.45, [0.55, 0.45, 0.38, 0.3, 0.2]), (2017.55, [0.5, 0.42, 0.35]),
             (2017.7, [0.56, 0.5, 0.45])]

# Seasonal + trend fit, read as its successive maxima / minima
fit_co = [(2010.2, 137), (2010.72, 106), (2011.21, 130), (2011.71, 104), (2012.19, 133), (2012.68, 106),
          (2013.21, 128.5), (2013.68, 103), (2014.2, 131), (2014.7, 101.5), (2015.2, 126.5), (2015.7, 101.5),
          (2016.2, 129), (2016.72, 98.5), (2017.2, 124), (2017.7, 98.5), (2018.2, 122)]
fit_c2h2 = [(2010.15, 0.26), (2010.64, 0.111), (2011.1, 0.245), (2011.57, 0.123), (2012.11, 0.269),
            (2012.63, 0.104), (2013.11, 0.239), (2013.59, 0.112), (2014.1, 0.261), (2014.59, 0.096),
            (2015.1, 0.231), (2015.58, 0.104), (2016.09, 0.253), (2016.6, 0.085), (2017.1, 0.223),
            (2017.6, 0.119), (2018.1, 0.22)]
fit_c2h6 = [(2010.17, 1.55), (2010.65, 1.01), (2011.15, 1.44), (2011.62, 1.10), (2012.12, 1.56),
            (2012.65, 0.99), (2013.15, 1.42), (2013.64, 1.09), (2014.12, 1.54), (2014.64, 0.96),
            (2015.14, 1.40), (2015.64, 1.05), (2016.14, 1.52), (2016.67, 0.94), (2017.15, 1.37),
            (2017.66, 1.04), (2018.15, 1.38)]
fit_ch4 = [(2010.2, 1801), (2010.76, 1857), (2011.18, 1816), (2011.7, 1852), (2012.23, 1818), (2012.75, 1872),
           (2013.23, 1827), (2013.74, 1867), (2014.24, 1831), (2014.77, 1886), (2015.25, 1841),
           (2015.76, 1884), (2016.25, 1847), (2016.76, 1902), (2017.24, 1857), (2017.76, 1896),
           (2018.25, 1862)]
fit_nh3 = [(2010.15, 0.2), (2010.55, 0.497), (2011.01, 0.18), (2011.5, 0.524), (2012.0, 0.115),
           (2012.52, 0.535), (2013.02, 0.209), (2013.52, 0.561), (2014.02, 0.16), (2014.55, 0.57),
           (2015.03, 0.257), (2015.53, 0.604), (2016.03, 0.187), (2016.55, 0.615), (2017.04, 0.294),
           (2017.54, 0.642), (2018.04, 0.3)]
fit_hcn = [(2009.99, 0.18), (2010.49, 0.449), (2010.99, 0.173), (2011.47, 0.422), (2011.98, 0.189),
           (2012.47, 0.459), (2012.98, 0.176), (2013.46, 0.43), (2013.95, 0.193), (2014.48, 0.465),
           (2014.97, 0.186), (2015.47, 0.438), (2015.97, 0.197), (2016.45, 0.475), (2016.98, 0.189),
           (2017.47, 0.449), (2017.98, 0.19)]
fit_ch2o = [(2010.0, 0.15), (2010.51, 0.829), (2011.0, 0.174), (2011.5, 0.834), (2012.01, 0.107),
            (2012.52, 0.824), (2013.02, 0.155), (2013.54, 0.834), (2014.02, 0.102), (2014.54, 0.816),
            (2015.02, 0.155), (2015.53, 0.834), (2016.04, 0.102), (2016.54, 0.807), (2017.04, 0.155),
            (2017.54, 0.829), (2018.05, 0.15)]
fit_hcooh = [(2009.97, 0.03), (2010.48, 0.435), (2010.96, 0.035), (2011.48, 0.403), (2011.95, 0.006),
             (2012.47, 0.448), (2012.97, 0.035), (2013.47, 0.411), (2013.97, 0.019), (2014.48, 0.459),
             (2014.97, 0.054), (2015.47, 0.427), (2015.97, 0.027), (2016.47, 0.47), (2016.98, 0.067),
             (2017.46, 0.435), (2017.97, 0.06)]

# linear trend: (start year, start value, end year, end value)
trend_co = (2010.24, 120.3, 2017.85, 111.5)
trend_c2h2 = (2010.23, 0.192, 2017.9, 0.158)
trend_c2h6 = (2010.24, 1.30, 2017.85, 1.21)
trend_ch4 = (2010.23, 1826.5, 2017.9, 1883)
trend_nh3 = (2010.24, 0.307, 2017.6, 0.455)
trend_hcn = (2010.23, 0.302, 2017.9, 0.33)
trend_ch2o = (2010.24, 0.487, 2017.85, 0.465)
trend_hcooh = (2010.23, 0.214, 2017.59, 0.256)

titles = ["CO", "C$_2$H$_2$", "C$_2$H$_6$", "CH$_4$", "NH$_3$", "HCN", "CH$_2$O", "HCOOH"]
years = list(range(2010, 2018))

panels = [
    dict(title=titles[0], cam=cam_co, cam_err=cam_err_co, ftir=ftir_co, raw=all_co, fit=fit_co,
         trend=trend_co, ylim=(0, 220), step=50, fmt="%d"),
    dict(title=titles[1], cam=cam_c2h2, cam_err=cam_err_c2h2, ftir=ftir_c2h2, raw=all_c2h2, fit=fit_c2h2,
         trend=trend_c2h2, ylim=(0, 0.6), step=0.1, fmt="%.1f"),
    dict(title=titles[2], cam=cam_c2h6, cam_err=cam_err_c2h6, ftir=ftir_c2h6, raw=all_c2h6, fit=fit_c2h6,
         trend=trend_c2h6, ylim=(0, 3.0), step=0.5, fmt="%.1f"),
    dict(title=titles[3], cam=cam_ch4, cam_err=cam_err_ch4, ftir=ftir_ch4, raw=all_ch4, fit=fit_ch4,
         trend=trend_ch4, ylim=(1650, 2050), step=50, fmt="%d"),
    dict(title=titles[4], cam=cam_nh3, cam_err=cam_err_nh3, ftir=ftir_nh3, raw=all_nh3, fit=fit_nh3,
         trend=trend_nh3, ylim=(0, 2.0), step=0.5, fmt="%.1f"),
    dict(title=titles[5], cam=cam_hcn, cam_err=cam_err_hcn, ftir=ftir_hcn, raw=all_hcn, fit=fit_hcn,
         trend=trend_hcn, ylim=(0, 1.2), step=0.2, fmt="%.1f"),
    dict(title=titles[6], cam=cam_ch2o, cam_err=cam_err_ch2o, ftir=ftir_ch2o, raw=all_ch2o, fit=fit_ch2o,
         trend=trend_ch2o, ylim=(0, 2.0), step=0.5, fmt="%.1f"),
    dict(title=titles[7], cam=cam_hcooh, cam_err=cam_err_hcooh, ftir=ftir_hcooh, raw=all_hcooh,
         fit=fit_hcooh, trend=trend_hcooh, ylim=(0, 1.2), step=0.2, fmt="%.1f"),
]


def fit_line(ext, t0, t1):
    """Smooth curve through the read maxima/minima of the seasonal fit."""
    ts, vs = [], []
    s = np.linspace(0, 1, 40)
    for (ta, va), (tb, vb) in zip(ext[:-1], ext[1:]):
        ts.append(ta + (tb - ta) * s)
        vs.append(va + (vb - va) * (1 - np.cos(np.pi * s)) / 2)
    t = np.concatenate(ts)
    v = np.concatenate(vs)
    keep = (t >= t0) & (t <= t1)
    return t[keep], v[keep]


def draw_panel(ax, p, bottom):
    raw = pd.DataFrame([(t, v) for t, vals in p["raw"] for v in vals], columns=["year", "vmr"])
    sns.scatterplot(data=raw, x="year", y="vmr", color="#7a7a7a", s=20, linewidth=0,
                    legend=False, ax=ax, zorder=2)

    cam = np.asarray(p["cam"], dtype=float)
    err = p["cam_err"]
    if np.ndim(err):
        n = min(len(cam), len(err))
        cam, err = cam[:n], np.asarray(err[:n])
    cam_t = 2010 + np.arange(len(cam)) / 12.0
    ax.errorbar(cam_t, cam, yerr=err, fmt="o", ms=5.5, mfc="white", mec="orange", mew=1.8,
                ecolor="orange", elinewidth=1.1, capsize=2.5, capthick=1.1, zorder=3)

    ft = np.array(p["ftir"], dtype=float)
    ax.errorbar(ft[:, 0], ft[:, 1], yerr=ft[:, 2], fmt="o", ms=7, mfc="white", mec="red", mew=2.2,
                ecolor="red", elinewidth=1.3, capsize=2.5, capthick=1.3, zorder=4)

    t0, v0, t1, v1 = p["trend"]
    ft_t, ft_v = fit_line(p["fit"], t0, t1)
    sns.lineplot(x=ft_t, y=ft_v, color="green", linewidth=3, sort=False, estimator=None,
                 ax=ax, zorder=5)
    sns.lineplot(x=[t0, t1], y=[v0, v1], color="blue", linewidth=3, sort=False, estimator=None,
                 ax=ax, zorder=6)

    ax.set_xlim(2010, 2018)
    ax.set_ylim(*p["ylim"])
    ax.set_xticks(years)
    ax.xaxis.set_minor_locator(MultipleLocator(1 / 12.0))
    ax.yaxis.set_major_locator(MultipleLocator(p["step"]))
    ax.yaxis.set_minor_locator(AutoMinorLocator())
    ax.yaxis.set_major_formatter(FormatStrFormatter(p["fmt"]))
    ax.set_axisbelow(True)
    ax.grid(True, which="major", linestyle=":", color="#8c8c8c", linewidth=0.9)
    ax.grid(True, which="minor", linestyle=":", color="#c4c4c4", linewidth=0.8)
    ax.tick_params(which="both", direction="in", top=True, right=True, labelsize=19,
                   colors="black")
    ax.tick_params(which="major", length=7, width=1)
    ax.tick_params(which="minor", length=3.5, width=0.8)
    ax.set_xlabel("")
    ax.set_ylabel("")
    for sp in ax.spines.values():
        sp.set_linewidth(1.0)
        sp.set_color("black")
    if bottom:
        ax.set_xticklabels([str(y) for y in years], rotation=30, ha="right")
    else:
        ax.tick_params(labelbottom=False)
    ax.text(0.03, 0.965, p["title"], transform=ax.transAxes, fontsize=29, va="top", ha="left",
            color="black", zorder=10)


sns.set_style("ticks")
plt.rcParams["font.family"] = ["DejaVu Sans"]
plt.rcParams["mathtext.fontset"] = "cm"
plt.rcParams["text.color"] = "black"
plt.rcParams["axes.labelcolor"] = "black"
plt.rcParams["xtick.color"] = "black"
plt.rcParams["ytick.color"] = "black"

fig = plt.figure(figsize=(13.44, 12.14), dpi=100)
lefts = [0.090, 0.5804]
bottoms = [0.7754, 0.5442, 0.3130, 0.0810]
axes = []
for i, p in enumerate(panels):
    row, col = divmod(i, 2)
    ax = fig.add_axes([lefts[col], bottoms[row], 0.4249, 0.2059])
    draw_panel(ax, p, bottom=(row == 3))
    axes.append(ax)

# legends
ax0 = axes[0]
h_all = Line2D([], [], ls="none", marker="o", ms=4, color="gray", mec="none")
h_mon = ax0.scatter([], [], s=50, facecolors="white", edgecolors="red", linewidths=2.2)
h_cam = ax0.scatter([], [], s=36, facecolors="white", edgecolors="orange", linewidths=1.8)
leg_kw = dict(fontsize=12, frameon=True, fancybox=False, edgecolor="black", framealpha=1,
              borderaxespad=0, handletextpad=0.8, borderpad=0.45, labelspacing=0.45)
leg1 = ax0.legend([h_all, h_mon], ["FTIR - all", "FTIR - Monthly"], loc="lower left",
                  bbox_to_anchor=(0.044, 0.01), numpoints=2, scatterpoints=3,
                  scatteryoffsets=[0.5], handlelength=1.7, **leg_kw)
leg1.get_frame().set_linewidth(1.0)
ax0.add_artist(leg1)
leg2 = ax0.legend([h_cam], ["CAM-Chem - Monthly"], loc="lower left", bbox_to_anchor=(0.462, 0.043),
                  scatterpoints=3, scatteryoffsets=[0.5], handlelength=1.7, **leg_kw)
leg2.get_frame().set_linewidth(1.0)

h_fit = Line2D([], [], color="green", linewidth=3)
h_trend = Line2D([], [], color="blue", linewidth=3)
leg3 = fig.legend([h_fit, h_trend], ["FTIR - Seasonal + trend fit", "FTIR - Trend"], loc="lower left",
                  bbox_to_anchor=(0.2693, 0.7273), bbox_transform=fig.transFigure,
                  handlelength=1.6, **leg_kw)
leg3.get_frame().set_linewidth(1.0)

fig.text(0.022, 0.496, "wVMR [ppb]", rotation=90, fontsize=19, va="center", ha="center")
fig.text(0.3024, 0.0124, "Year", fontsize=19, va="center", ha="center")
fig.text(0.7928, 0.0124, "Year", fontsize=19, va="center", ha="center")

fig.savefig("out.png", dpi=100)
